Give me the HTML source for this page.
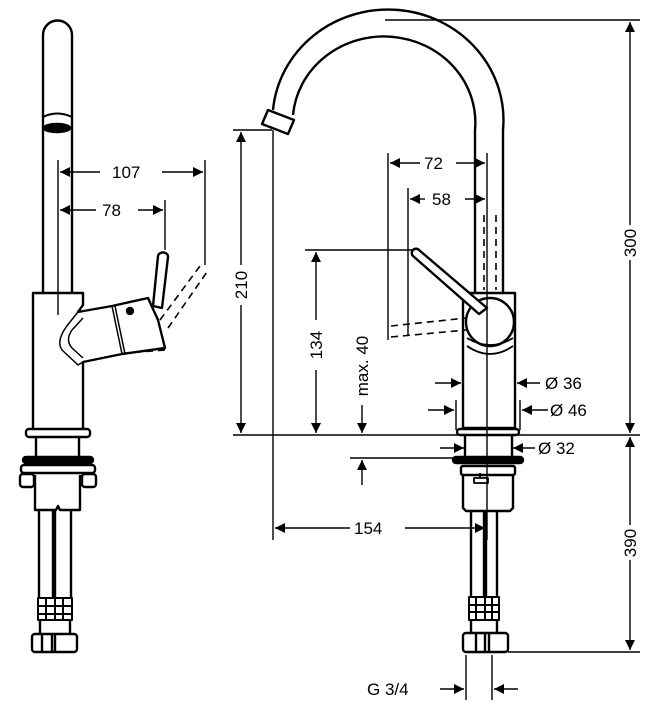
<!DOCTYPE html>
<html><head><style>
html,body{margin:0;padding:0;background:#fff;}
svg{display:block;}
text{font-family:"Liberation Sans",sans-serif;font-size:17px;fill:#000;}
</style></head><body>
<svg width="663" height="720" viewBox="0 0 663 720" xmlns="http://www.w3.org/2000/svg">
<defs>
<marker id="a" viewBox="0 0 10 10" refX="10" refY="5" markerWidth="10" markerHeight="10" markerUnits="userSpaceOnUse" orient="auto"><path d="M0,0L10,5L0,10z"/></marker>
</defs>
<g fill="none" stroke="#000" stroke-width="2.4" stroke-linejoin="round">
<!-- LEFT FAUCET -->
<path d="M43,293 V35 A14.5,14.5 0 0 1 72,35 V293"/>
<path d="M43,117 Q57,110 72,117" stroke-width="2"/>
<ellipse cx="57" cy="128" rx="13" ry="4" fill="#000"/>
<path d="M33,428 V293 H83 V305 L78,312 L112,306 L148,298 L158,320 L165,348 L122,354 L83,362 V428"/>
<path d="M112,306 L122,354 M115,306 L125,354" stroke-width="1.5"/>
<path d="M78,312 L70,322 Q55,340 62,350 L78,365 L83,362 M83,318 L72,330 Q65,340 72,348 L83,358" stroke-width="1.5"/>
<path d="M153,306 L158,256 A5,4 0 0 1 168,257 L162,308 Z"/>
<circle cx="130" cy="311" r="3" fill="#000"/>
<rect x="26" y="429" width="64" height="8" rx="3"/>
<path d="M36,437 V458 M79,437 V458"/>
<rect x="23" y="457" width="70" height="6" rx="3" fill="#000"/>
<rect x="21" y="465" width="74" height="8" rx="3"/>
<rect x="20" y="474" width="14" height="13" rx="3"/>
<rect x="82" y="474" width="14" height="13" rx="3"/>
<path d="M35,475 V510 H56 L58,506 L60,510 H80 V475"/>
<path d="M39,510 V598 M53,510 V598 M55,510 V598 M71,510 V598"/>
<path d="M38,598 H72 V620 H38 Z M38,606 H72 M38,614 H72 M46,598 V620 M55,598 V620 M63,598 V620" stroke-width="2"/>
<path d="M40,620 V634 M70,620 V634" />
<rect x="32" y="634" width="45" height="18" rx="3"/>
<path d="M42,634 V652 M52,634 V652 M55,634 V652"/>
<!-- RIGHT FAUCET spout -->
<path d="M503,293 V130 A115,110 0 0 0 273,110"/>
<path d="M475,293 V130 A87,82 0 0 0 293,115"/>
<path d="M262,124 L268,110 L294,120 L288,134 Z"/>
<path d="M463,428 V293 H515 V428 Z"/>
<circle cx="490" cy="322" r="24"/>
<path d="M467,338 Q490,352 513,338 M467,346 Q490,362 513,346" stroke-width="1.8"/>
<path d="M479,314 L413,256 A4,4 0 0 1 419,250 L487,308 Z" fill="#fff"/>
<rect x="457" y="429" width="62" height="6" rx="3"/>
<path d="M465,435 V457 M512,435 V457"/>
<rect x="453" y="457" width="70" height="6" rx="3" fill="#000"/>
<rect x="461" y="466" width="54" height="9" rx="2"/>
<path d="M463,475 V508 L466,511 H510 L513,508 V475"/>
<path d="M480,473 V478 M474,478 H488 V483 H474 Z" stroke-width="1.8"/>
<path d="M471,511 V597 M484,511 V597 M486,511 V597 M497,511 V597"/>
<path d="M469,597 H499 V620 H469 Z M469,605 H499 M469,612 H499 M476,597 V620 M485,597 V620 M492,597 V620" stroke-width="2"/>
<path d="M471,620 V633 M497,620 V633"/>
<rect x="463" y="633" width="45" height="19" rx="3"/>
<path d="M476,633 V652 M485,633 V652 M489,633 V652"/>
</g>
<!-- dashed ghosts -->
<g fill="none" stroke="#000" stroke-width="1.6" stroke-dasharray="7,5">
<path d="M160,320 L200,266 M168,328 L207,272"/>
<path d="M165,350 L125,353"/>
<path d="M391,326 L466,318 M391,337 L466,330"/>
<path d="M484,215 V290 M496,215 V290"/>
</g>
<!-- DIMENSION LINES -->
<g fill="none" stroke="#000" stroke-width="1.4">
<path d="M58,160 V315 M205,160 V265 M165,200 V250"/>
<path d="M100,172 H60" marker-end="url(#a)"/><path d="M162,172 H203" marker-end="url(#a)"/>
<path d="M96,210 H60" marker-end="url(#a)"/><path d="M138,210 H163" marker-end="url(#a)"/>
<path d="M385,20 H640 M233,435 H640 M508,652 H640 M233,130 H272 M273,130 V540 M305,250 H412"/>
<path d="M388,153 V340 M408,188 V335 M487,153 V540 M350,458 H465"/>
<path d="M630,225 V22" marker-end="url(#a)"/><path d="M630,260 V433" marker-end="url(#a)"/>
<path d="M630,525 V437" marker-end="url(#a)"/><path d="M630,560 V650" marker-end="url(#a)"/>
<path d="M241,265 V132" marker-end="url(#a)"/><path d="M241,305 V433" marker-end="url(#a)"/>
<path d="M316,320 V252" marker-end="url(#a)"/><path d="M316,370 V433" marker-end="url(#a)"/>
<path d="M362,405 V433" marker-end="url(#a)"/><path d="M362,485 V460" marker-end="url(#a)"/>
<path d="M350,528 H275" marker-end="url(#a)"/><path d="M405,528 H485" marker-end="url(#a)"/>
<path d="M420,163 H390" marker-end="url(#a)"/><path d="M456,163 H485" marker-end="url(#a)"/>
<path d="M425,199 H410" marker-end="url(#a)"/><path d="M465,199 H485" marker-end="url(#a)"/>
<path d="M435,383 H461" marker-end="url(#a)"/><path d="M540,383 H517" marker-end="url(#a)"/>
<path d="M456,400 V430 M520,400 V430"/>
<path d="M428,410 H454" marker-end="url(#a)"/><path d="M548,410 H522" marker-end="url(#a)"/>
<path d="M440,448 H464" marker-end="url(#a)"/><path d="M535,448 H513" marker-end="url(#a)"/>
<path d="M466,655 V700 M492,655 V700"/>
<path d="M440,689 H464" marker-end="url(#a)"/><path d="M518,689 H494" marker-end="url(#a)"/>
</g>
<g>
<text x="112" y="178">107</text>
<text x="102" y="216">78</text>
<text x="424" y="169">72</text>
<text x="432" y="205">58</text>
<text x="354" y="534">154</text>
<text x="545" y="389">Ø 36</text>
<text x="550" y="416">Ø 46</text>
<text x="538" y="454">Ø 32</text>
<text x="367" y="695">G 3/4</text>
<text transform="translate(636,243) rotate(-90)" text-anchor="middle">300</text>
<text transform="translate(636,543) rotate(-90)" text-anchor="middle">390</text>
<text transform="translate(247,285) rotate(-90)" text-anchor="middle">210</text>
<text transform="translate(322,345) rotate(-90)" text-anchor="middle">134</text>
<text transform="translate(368,366) rotate(-90)" text-anchor="middle">max. 40</text>
</g>
</svg>
</body></html>
